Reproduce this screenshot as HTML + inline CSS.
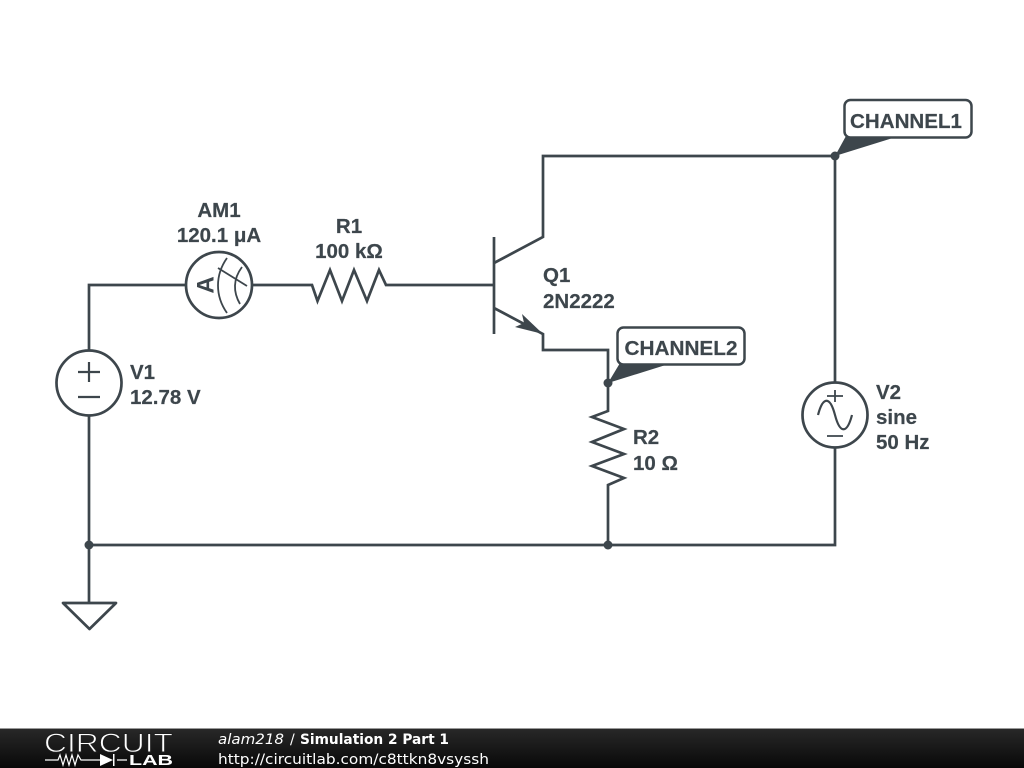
<!DOCTYPE html>
<html><head><meta charset="utf-8"><style>
html,body{margin:0;padding:0;background:#fff}
svg{display:block}
.l{font-family:"Liberation Sans",sans-serif;font-weight:bold;font-size:20.5px;fill:#3d464c;stroke:#3d464c;stroke-width:.2px}
.f{font-family:"DejaVu Sans",sans-serif;font-size:14px;fill:#fff}
</style></head><body>
<svg width="1024" height="768" viewBox="0 0 1024 768" xmlns="http://www.w3.org/2000/svg">
<defs><linearGradient id="g" x1="0" y1="0" x2="0" y2="1"><stop offset="0" stop-color="#282828"/><stop offset="1" stop-color="#080808"/></linearGradient></defs>
<rect width="1024" height="768" fill="#fff"/>
<g fill="none" stroke="#3d464c" stroke-width="2.700" stroke-linejoin="miter">
<path d="M89 350V285H186M252 285H312L317.500 301L330 270L342 301L354 270L367 301L379 270L386 285H494"/>
<path d="M89 416V603M89 545H835V448M835 382V156H543V237L494 263"/>
<path d="M494 237V334M494 308L543 334V350H608V411L592 417L624 429L592 442L624 454L592 466L624 478L608 485V545"/>
<circle cx="89" cy="383" r="32.500"/>
<circle cx="219" cy="285" r="33"/>
<circle cx="835" cy="415" r="32.500"/>
<path d="M63 603H116L89.500 629Z" stroke-linejoin="round"/>
<path d="M78 372H100M89 362V382M78 397H100" stroke-width="2.200"/>
<path d="M827 396H843M835 390V402M827 436H843" stroke-width="1.800"/>
<path d="M818 415C823 396 830 396 835 415C840 434 847 434 852 415" stroke-width="2.200"/>
<path d="M227 258C215 275 215 296 227 313M242 267C233 279 233 292 240 304M218 268L247 286" stroke-width="1.800"/>
</g>
<text transform="translate(213.500 285) rotate(-90)" text-anchor="middle" font-family="Liberation Sans, sans-serif" font-weight="bold" font-size="24" fill="#3d464c">A</text>
<path d="M543 334L522 314L524 323L515 327Z" fill="#3d464c"/>
<circle cx="89" cy="545" r="4.500" fill="#3d464c"/>
<circle cx="608" cy="545" r="4.500" fill="#3d464c"/>
<circle cx="608" cy="383" r="4.500" fill="#3d464c"/>
<circle cx="835" cy="156" r="4.500" fill="#3d464c"/>
<path d="M608 383L620 363H672Z" fill="#3d464c"/>
<path d="M835 156L846 136H899Z" fill="#3d464c"/>
<rect x="617.500" y="327.500" width="127" height="37" rx="6" fill="#fff" stroke="#3d464c" stroke-width="2.500"/>
<rect x="844.500" y="100" width="127" height="37.500" rx="6" fill="#fff" stroke="#3d464c" stroke-width="2.500"/>
<text class="l" x="219" y="217" text-anchor="middle">AM1</text>
<text class="l" x="219" y="242" text-anchor="middle">120.1 μA</text>
<text class="l" x="349" y="233" text-anchor="middle">R1</text>
<text class="l" x="349" y="258" text-anchor="middle">100 kΩ</text>
<text class="l" x="130" y="379">V1</text>
<text class="l" x="130" y="404">12.78 V</text>
<text class="l" x="543" y="282">Q1</text>
<text class="l" x="543" y="308">2N2222</text>
<text class="l" x="633" y="444">R2</text>
<text class="l" x="633" y="470">10 Ω</text>
<text class="l" x="876" y="399">V2</text>
<text class="l" x="876" y="424">sine</text>
<text class="l" x="876" y="449">50 Hz</text>
<text class="l" x="681" y="355" text-anchor="middle" textLength="113" lengthAdjust="spacingAndGlyphs">CHANNEL2</text>
<text class="l" x="906" y="128" text-anchor="middle" textLength="112" lengthAdjust="spacingAndGlyphs">CHANNEL1</text>
<rect y="729" width="1024" height="39" fill="url(#g)"/>
<rect y="728" width="1024" height="1" fill="#999"/>
<text x="44" y="752" font-family="Liberation Sans, sans-serif" font-size="27" fill="#fff" stroke="#1f1f1f" stroke-width="0.900" textLength="129" lengthAdjust="spacingAndGlyphs">CIRCUIT</text>
<text x="129" y="765" font-family="Liberation Sans, sans-serif" font-weight="bold" font-size="15" fill="#fff" textLength="44" lengthAdjust="spacingAndGlyphs">LAB</text>
<path d="M45 760H58L60 755L63 765L66 755L69 765L72 755L75 765L78 755L81 760H100M117 760H127" fill="none" stroke="#fff" stroke-width="1.200"/>
<path d="M100 754L113 760L100 766Z" fill="#fff"/>
<rect x="113" y="754" width="1.500" height="12" fill="#fff"/>
<text class="f" x="218" y="744" font-style="italic" textLength="66" lengthAdjust="spacingAndGlyphs">alam218</text>
<text class="f" x="290" y="744">/</text>
<text class="f" x="300" y="744" font-weight="bold" textLength="149" lengthAdjust="spacingAndGlyphs">Simulation 2 Part 1</text>
<text class="f" x="218" y="764" textLength="271" lengthAdjust="spacingAndGlyphs">http://circuitlab.com/c8ttkn8vsyssh</text>
</svg>
</body></html>
